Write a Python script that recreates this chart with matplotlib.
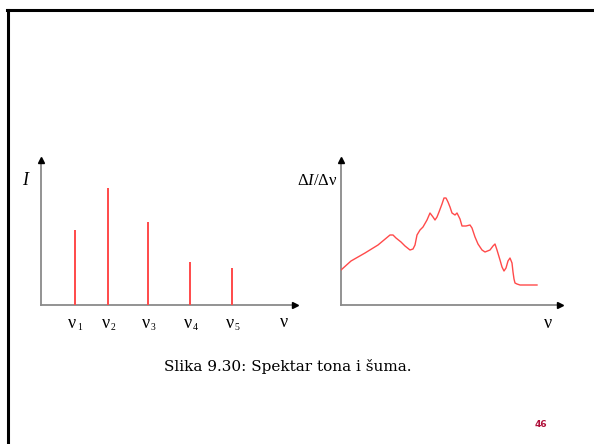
import matplotlib
matplotlib.use("Agg")
import matplotlib.pyplot as plt
from matplotlib.lines import Line2D

plt.rcParams['mathtext.fontset'] = 'custom'
plt.rcParams['mathtext.rm'] = 'Liberation Serif'
plt.rcParams['mathtext.it'] = 'Liberation Serif:italic'

# ---- data ----
line_labels = ['1', '2', '3', '4', '5']
line_nu = [1.0, 2.0, 3.2, 4.45, 5.7]
line_intensity = [0.64, 1.0, 0.71, 0.37, 0.32]

noise_nu = [0, 10, 24, 37, 49, 52, 55, 60, 64, 69, 72, 74, 76, 79, 82, 86,
            89, 92, 94, 96, 98, 101, 103, 105, 107, 109, 111, 114, 116, 119,
            121, 125, 129, 131, 134, 137, 141, 144, 149, 152, 154, 156, 159,
            161, 163, 165, 167, 169, 171, 172, 173, 174, 176, 179, 196]
noise_density = [35, 44, 52, 60, 70, 70, 67, 63, 59, 55, 56, 60, 70, 75, 78,
                 85, 92, 88, 85, 88, 93, 101, 107, 107, 103, 98, 92, 90, 92,
                 86, 79, 79, 80, 77, 68, 61, 55, 53, 55, 59, 61, 55, 45, 38,
                 34, 37, 44, 47, 42, 33, 26, 22, 21, 20, 20]

caption = "Slika 9.30: Spektar tona i šuma."
page_number = "46"

W, H = 594, 444
fig = plt.figure(figsize=(W / 100, H / 100), dpi=100)
fig.patch.set_facecolor('white')

def fx(px):
    return px / W

def fy(py):
    return 1 - py / H

# slide frame
fig.add_artist(Line2D([fx(7.5), fx(7.5)], [fy(10.5), fy(H)], color='black', lw=2.2))
fig.add_artist(Line2D([fx(6.5), fx(W)], [fy(10.5), fy(10.5)], color='black', lw=2.2))

RED = '#ff4a4a'
AXC = '#8a8a8a'

def make_axes(x0, y0, x1, y1):
    ax = fig.add_axes([fx(x0), fy(y0), fx(x1) - fx(x0), (y0 - y1) / H])
    ax.set_axis_off()
    ax.plot([0, 1], [0, 0], transform=ax.transAxes, color=AXC, lw=1.3, clip_on=False)
    ax.plot([0, 0], [0, 1], transform=ax.transAxes, color=AXC, lw=1.3, clip_on=False)
    ax.plot([1], [0], transform=ax.transAxes, marker='>', color='black', ms=4.5, clip_on=False)
    ax.plot([0], [1], transform=ax.transAxes, marker='^', color='black', ms=4.5, clip_on=False)
    return ax

SERIF = 'Liberation Serif'

# left: line spectrum
ax1 = make_axes(41, 305, 295, 160)
ax1.set_xlim(0, 7.58)
ax1.set_ylim(0, 1.24)
ax1.vlines(line_nu, 0, line_intensity, color=RED, lw=1.4)
for x, lab in zip(line_nu, line_labels):
    ax1.annotate('ν', xy=(x, 0), xycoords='data',
                 xytext=(-2, -19), textcoords='offset pixels',
                 ha='center', va='center', fontsize=13, family=SERIF)
    ax1.annotate(lab, xy=(x, 0), xycoords='data',
                 xytext=(5, -23), textcoords='offset pixels',
                 ha='center', va='center', fontsize=7, family=SERIF)
fig.text(fx(284), fy(322), 'ν', family=SERIF, fontsize=13,
         ha='center', va='center')
fig.text(fx(25), fy(180), 'I', family=SERIF, style='italic',
         fontsize=13, ha='center', va='center')

# right: continuous spectrum
ax2 = make_axes(341, 305, 560, 160)
ax2.set_xlim(0, 219)
ax2.set_ylim(0, 145)
ax2.plot(noise_nu, noise_density, color=RED, lw=1.0, solid_joinstyle='round')
fig.text(fx(548), fy(323), 'ν', family=SERIF, fontsize=13,
         ha='center', va='center')
fig.text(fx(317), fy(180), r'$\Delta \mathit{I}/\Delta \mathrm{ν}$', fontsize=12,
         ha='center', va='center')

fig.text(fx(288), fy(366), caption, family='DejaVu Serif', fontsize=11,
         ha='center', va='center')
fig.text(fx(541), fy(424), page_number, family='DejaVu Sans', weight='bold',
         fontsize=6.5, color='#b0103a', ha='center', va='center')

fig.savefig('out.png', dpi=100, facecolor='white')
